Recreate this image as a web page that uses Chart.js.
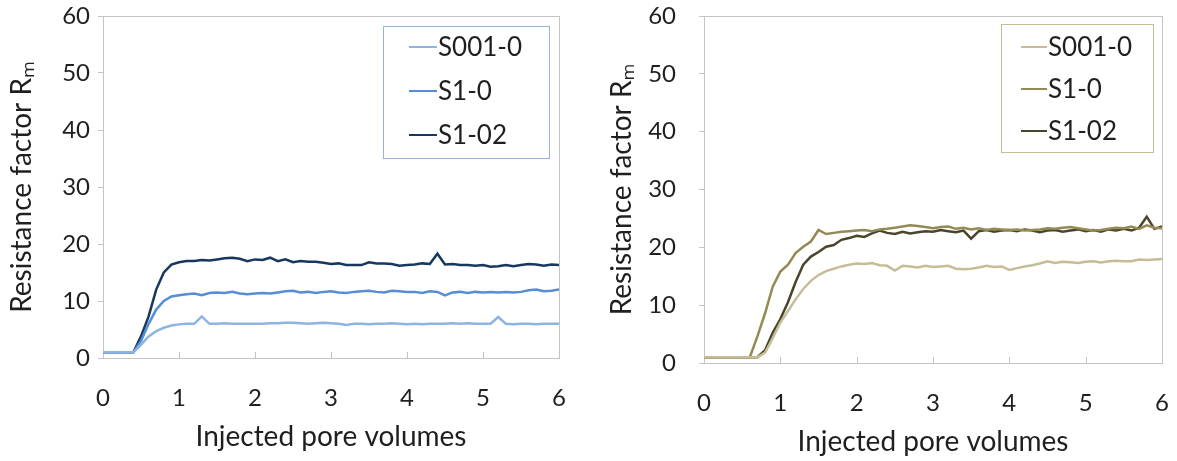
<!DOCTYPE html>
<html>
<head>
<meta charset="utf-8">
<script src="https://cdn.jsdelivr.net/npm/chart.js@4.4.1/dist/chart.umd.min.js"></script>
<style>
  html, body { margin: 0; padding: 0; background: #fff; }
  body { width: 1177px; height: 461px; position: relative; overflow: hidden; }
  .box { position: absolute; top: 0; height: 461px; }
  #leftBox { left: 0; width: 585px; }
  #rightBox { left: 600px; width: 577px; }
</style>
</head>
<body>
<div class="box" id="leftBox"><canvas id="leftChart"></canvas></div>
<div class="box" id="rightBox"><canvas id="rightChart"></canvas></div>
<script>
// injected pore volumes (x values, shared by every series)
const pv = [0, 0.1, 0.2, 0.3, 0.4, 0.5, 0.6, 0.7, 0.8, 0.9,
  1, 1.1, 1.2, 1.3, 1.4, 1.5, 1.6, 1.7, 1.8, 1.9,
  2, 2.1, 2.2, 2.3, 2.4, 2.5, 2.6, 2.7, 2.8, 2.9,
  3, 3.1, 3.2, 3.3, 3.4, 3.5, 3.6, 3.7, 3.8, 3.9,
  4, 4.1, 4.2, 4.3, 4.4, 4.5, 4.6, 4.7, 4.8, 4.9,
  5, 5.1, 5.2, 5.3, 5.4, 5.5, 5.6, 5.7, 5.8, 5.9, 6];

const seriesNames = ['S001-0', 'S1-0', 'S1-02'];

// left panel
const leftS001 = [1, 1, 1, 1, 1, 2.3, 3.8, 4.7, 5.3, 5.7,
  5.9, 6.0, 6.0, 7.3, 6.0, 6.0, 6.1, 6.0, 6.0, 6.0,
  6.0, 6.0, 6.1, 6.1, 6.2, 6.2, 6.1, 6.0, 6.1, 6.2,
  6.1, 6.0, 5.8, 6.0, 6.0, 5.9, 6.0, 6.0, 6.1, 6.0,
  5.9, 6.0, 5.9, 6.0, 6.0, 6.0, 6.1, 6.0, 6.1, 6.0,
  6.0, 6.0, 7.2, 6.0, 5.9, 6.0, 6.0, 5.9, 6.0, 6.0, 6.0];
const leftS10 = [1, 1, 1, 1, 1, 3.0, 6.0, 8.5, 10.0, 10.8,
  11.0, 11.2, 11.3, 11.0, 11.4, 11.5, 11.4, 11.6, 11.3, 11.2,
  11.3, 11.4, 11.3, 11.5, 11.7, 11.8, 11.5, 11.6, 11.4, 11.6,
  11.7, 11.5, 11.4, 11.6, 11.7, 11.8, 11.6, 11.5, 11.8, 11.7,
  11.6, 11.6, 11.4, 11.7, 11.6, 11.0, 11.5, 11.6, 11.4, 11.6,
  11.5, 11.6, 11.5, 11.6, 11.5, 11.6, 11.9, 12.0, 11.7, 11.8, 12.0];
const leftS102 = [1, 1, 1, 1, 1, 3.8, 7.3, 12.0, 15.0, 16.4,
  16.8, 17.0, 17.0, 17.2, 17.1, 17.3, 17.5, 17.6, 17.4, 17.0,
  17.3, 17.2, 17.6, 17.0, 17.3, 16.8, 17.0, 16.9, 16.9, 16.7,
  16.5, 16.6, 16.3, 16.3, 16.3, 16.8, 16.6, 16.6, 16.5, 16.2,
  16.3, 16.4, 16.6, 16.5, 18.3, 16.4, 16.5, 16.3, 16.3, 16.2,
  16.3, 16.0, 16.1, 16.3, 16.1, 16.3, 16.5, 16.4, 16.2, 16.4, 16.3];

// right panel
const rightS001 = [1, 1, 1, 1, 1, 1, 1, 1, 1.8, 4.3,
  7.0, 9.0, 11.0, 12.8, 14.2, 15.2, 15.9, 16.3, 16.7, 17.0,
  17.2, 17.1, 17.3, 16.9, 16.8, 16.0, 16.8, 16.7, 16.5, 16.8,
  16.6, 16.7, 16.8, 16.3, 16.2, 16.3, 16.5, 16.8, 16.6, 16.7,
  16.1, 16.4, 16.7, 16.9, 17.2, 17.6, 17.3, 17.5, 17.4, 17.3,
  17.5, 17.6, 17.4, 17.6, 17.7, 17.6, 17.6, 17.9, 17.8, 17.9, 18.0];
const rightS10 = [1, 1, 1, 1, 1, 1, 1, 4.6, 8.6, 13.2,
  15.8, 17.0, 19.0, 20.1, 21.0, 23.0, 22.3, 22.5, 22.7, 22.8,
  22.9, 23.0, 22.8, 23.1, 23.2, 23.4, 23.6, 23.8, 23.7, 23.5,
  23.3, 23.5, 23.6, 23.2, 23.4, 23.1, 23.3, 23.0, 23.2, 23.1,
  23.0, 23.1, 22.9, 23.0, 23.1, 23.3, 23.2, 23.4, 23.5, 23.3,
  23.1, 22.9, 23.0, 23.2, 23.4, 23.3, 23.6, 23.2, 23.8, 23.4, 23.3];
const rightS102 = [1, 1, 1, 1, 1, 1, 1, 1, 2.2, 5.2,
  7.6, 10.5, 14.0, 17.0, 18.4, 19.2, 20.1, 20.4, 21.3, 21.6,
  22.0, 21.8, 22.4, 22.9, 22.5, 22.3, 22.7, 22.4, 22.6, 22.8,
  22.7, 23.0, 22.8, 22.6, 22.9, 21.5, 22.8, 23.0, 22.7, 22.9,
  23.0, 22.8, 23.1, 22.9, 22.6, 22.9, 23.0, 22.7, 22.9, 23.1,
  22.8, 23.0, 22.7, 23.1, 22.9, 23.2, 22.9, 23.4, 25.3, 23.2, 23.6];

const leftColors = ['#8EB4E3', '#558ED5', '#17375E'];
const rightColors = ['#C4BD97', '#948A54', '#4A452A'];

const FONT = 'Lato, "Open Sans", sans-serif';
const TEXT = '#1f1f1f';

// plot frame + x ticks pointing into the plot
const framePlugin = {
  id: 'frame',
  beforeDatasetsDraw(chart, args, o) {
    const { ctx, chartArea: a, scales: { x } } = chart;
    ctx.save();
    ctx.strokeStyle = o.color;
    ctx.lineWidth = 1;
    ctx.strokeRect(a.left + 0.5, a.top + 0.5, a.width, a.height);
    x.ticks.forEach(t => {
      const px = Math.round(x.getPixelForValue(t.value)) + 0.5;
      ctx.beginPath();
      ctx.moveTo(px, a.bottom);
      ctx.lineTo(px, a.bottom - o.tick);
      ctx.stroke();
    });
    ctx.restore();
  }
};

// legend in a bordered box, top right of the plot
const boxLegend = {
  id: 'boxLegend',
  afterDraw(chart, args, o) {
    const { ctx, chartArea: a } = chart;
    const right = a.right - o.right;
    const top = a.top + o.top;
    const left = right - o.width;
    ctx.save();
    ctx.fillStyle = '#fff';
    ctx.fillRect(left, top, o.width, o.height);
    ctx.strokeStyle = o.border;
    ctx.lineWidth = 1;
    ctx.strokeRect(left + 0.5, top + 0.5, o.width, o.height);
    ctx.font = o.font;
    ctx.textBaseline = 'middle';
    chart.data.datasets.forEach((ds, i) => {
      const y = top + o.first + i * o.gap;
      ctx.strokeStyle = ds.borderColor;
      ctx.lineWidth = 2;
      ctx.beginPath();
      ctx.moveTo(left + o.lineX, y);
      ctx.lineTo(left + o.lineX + o.lineLen, y);
      ctx.stroke();
      ctx.fillStyle = TEXT;
      ctx.fillText(ds.label, left + o.lineX + o.lineLen + 1, y + 1);
    });
    ctx.restore();
  }
};

function SetupChart(id, series, colors, s) {
  const datasets = series.map((ys, i) => ({
    label: seriesNames[i],
    data: pv.map((x, j) => ({ x: x, y: ys[j] })),
    borderColor: colors[i],
    borderWidth: 2.5,
    pointRadius: 0,
    tension: 0,
    fill: false
  }));

  return new Chart(document.getElementById(id), {
    type: 'line',
    data: { datasets: datasets },
    plugins: [framePlugin, boxLegend],
    options: {
      responsive: true,
      maintainAspectRatio: false,
      animation: false,
      devicePixelRatio: 1,
      layout: { padding: { top: 16, right: s.padRight, left: 0, bottom: 0 } },
      plugins: {
        legend: { display: false },
        tooltip: { enabled: false },
        frame: { color: '#C4C4C4', tick: 6 },
        boxLegend: Object.assign({ font: '26px ' + FONT }, s.legend)
      },
      scales: {
        x: {
          type: 'linear',
          min: 0, max: 6,
          afterFit: sc => { sc.height = s.xHeight; sc.paddingLeft = 0; sc.paddingRight = 0; },
          grid: { display: false, drawTicks: false },
          border: { display: false },
          ticks: { stepSize: 1, padding: 26, color: TEXT, font: { family: FONT, size: 24 } },
          title: {
            display: true, text: 'Injected pore volumes', color: TEXT,
            font: { family: FONT, size: 28 }, padding: { top: 0, bottom: s.xTitlePad }
          }
        },
        y: {
          min: 0, max: 60,
          afterFit: sc => { sc.width = s.yWidth; sc.paddingTop = 0; sc.paddingBottom = 0; },
          grid: { drawOnChartArea: false, drawTicks: true, tickLength: 5, color: '#C4C4C4' },
          border: { display: false },
          ticks: { stepSize: 10, padding: s.yTickPad, color: TEXT, font: { family: FONT, size: 24 } },
          title: {
            display: true, text: 'Resistance factor Rₘ', color: TEXT,
            font: { family: FONT, size: 28 }, padding: { top: 5, bottom: 0 }
          }
        }
      }
    }
  });
}

SetupChart('leftChart', [leftS001, leftS10, leftS102], leftColors, {
  padRight: 26, xHeight: 103, yWidth: 103, yTickPad: 8, xTitlePad: 7,
  legend: { border: '#95B3D7', right: 10, top: 10, width: 166, height: 132, first: 21, gap: 44, lineX: 26, lineLen: 28 }
});

SetupChart('rightChart', [rightS001, rightS10, rightS102], rightColors, {
  padRight: 15, xHeight: 98, yWidth: 104, yTickPad: 23, xTitlePad: 2,
  legend: { border: '#C4BD97', right: 9, top: 8, width: 152, height: 128, first: 23, gap: 42, lineX: 20, lineLen: 26 }
});
</script>
</body>
</html>
